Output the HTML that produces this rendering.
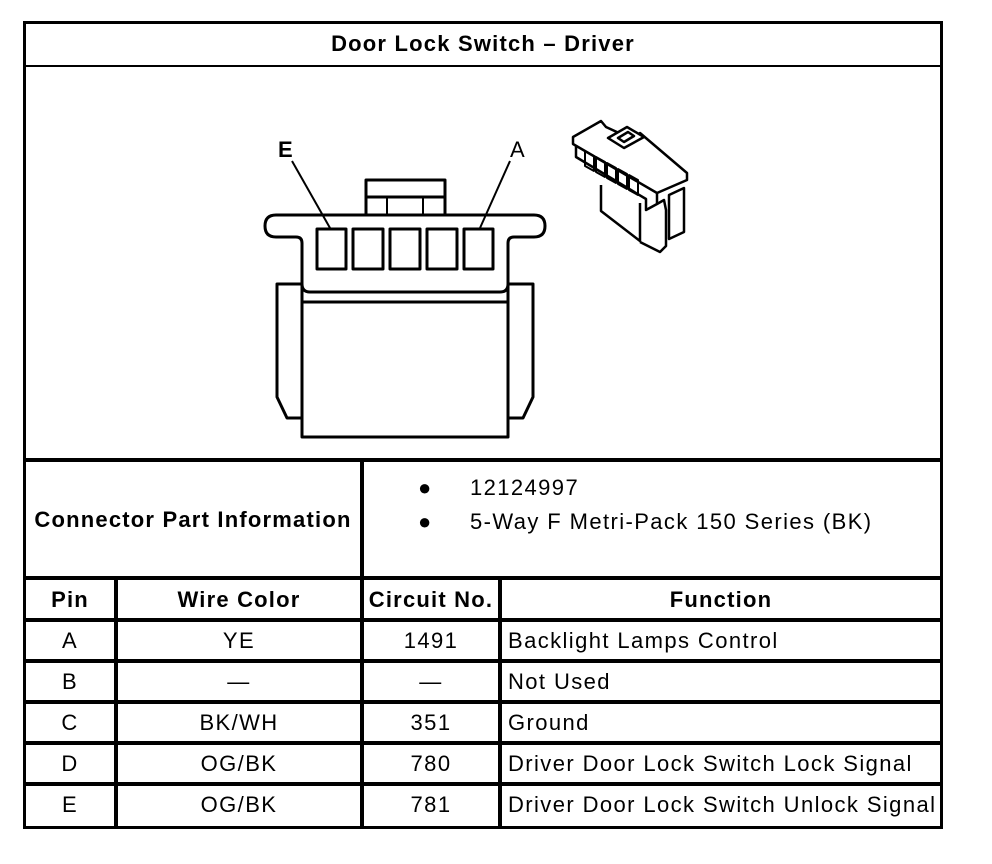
<!DOCTYPE html>
<html><head><style>
body{margin:0;background:#fff;width:992px;height:864px;position:relative;font-family:"Liberation Sans",Arial,sans-serif;}
.l{position:absolute;background:#000;}
.t{position:absolute;font-size:22px;letter-spacing:1.4px;color:#000;white-space:nowrap;}
.b{font-weight:bold;letter-spacing:1.2px;}
.c{text-align:center;}
</style></head><body>
<div class="l" style="left:23px;top:21px;width:920px;height:3px"></div>
<div class="l" style="left:23px;top:826px;width:920px;height:3px"></div>
<div class="l" style="left:23px;top:21px;width:3px;height:808px"></div>
<div class="l" style="left:940px;top:21px;width:3px;height:808px"></div>
<div class="l" style="left:23px;top:65px;width:920px;height:2px"></div>
<div class="l" style="left:23px;top:458px;width:920px;height:4px"></div>
<div class="l" style="left:23px;top:576px;width:920px;height:4px"></div>
<div class="l" style="left:23px;top:618px;width:920px;height:4px"></div>
<div class="l" style="left:23px;top:659px;width:920px;height:4px"></div>
<div class="l" style="left:23px;top:700px;width:920px;height:4px"></div>
<div class="l" style="left:23px;top:741px;width:920px;height:4px"></div>
<div class="l" style="left:23px;top:782px;width:920px;height:4px"></div>
<div class="l" style="left:360px;top:458px;width:4px;height:370px"></div>
<div class="l" style="left:114px;top:576px;width:4px;height:252px"></div>
<div class="l" style="left:498px;top:576px;width:4px;height:252px"></div>

<div class="t b c" style="left:26px;width:914px;top:31px">Door Lock Switch – Driver</div>
<div class="t b c" style="left:26px;width:334px;top:507px">Connector Part Information</div>
<div class="t" style="left:418px;top:475px">●</div>
<div class="t" style="left:470px;top:475px">12124997</div>
<div class="t" style="left:418px;top:509px">●</div>
<div class="t" style="left:470px;top:509px">5-Way F Metri-Pack 150 Series (BK)</div>

<div class="t b c" style="left:26px;width:88px;top:587px">Pin</div>
<div class="t b c" style="left:118px;width:242px;top:587px">Wire Color</div>
<div class="t b c" style="left:364px;width:134px;top:587px">Circuit No.</div>
<div class="t b c" style="left:502px;width:438px;top:587px">Function</div>

<div class="t c" style="left:26px;width:88px;top:628px">A</div>
<div class="t c" style="left:118px;width:242px;top:628px">YE</div>
<div class="t c" style="left:364px;width:134px;top:628px">1491</div>
<div class="t" style="left:508px;top:628px">Backlight Lamps Control</div>

<div class="t c" style="left:26px;width:88px;top:669px">B</div>
<div class="t c" style="left:118px;width:242px;top:669px">—</div>
<div class="t c" style="left:364px;width:134px;top:669px">—</div>
<div class="t" style="left:508px;top:669px">Not Used</div>

<div class="t c" style="left:26px;width:88px;top:710px">C</div>
<div class="t c" style="left:118px;width:242px;top:710px">BK/WH</div>
<div class="t c" style="left:364px;width:134px;top:710px">351</div>
<div class="t" style="left:508px;top:710px">Ground</div>

<div class="t c" style="left:26px;width:88px;top:751px">D</div>
<div class="t c" style="left:118px;width:242px;top:751px">OG/BK</div>
<div class="t c" style="left:364px;width:134px;top:751px">780</div>
<div class="t" style="left:508px;top:751px">Driver Door Lock Switch Lock Signal</div>

<div class="t c" style="left:26px;width:88px;top:792px">E</div>
<div class="t c" style="left:118px;width:242px;top:792px">OG/BK</div>
<div class="t c" style="left:364px;width:134px;top:792px">781</div>
<div class="t" style="left:508px;top:792px">Driver Door Lock Switch Unlock Signal</div>

<svg style="position:absolute;left:0;top:0" width="992" height="864">
<g fill="none" stroke="#000" stroke-width="3" stroke-linejoin="round">
<rect x="366" y="180" width="79" height="37"/>
<line x1="366" y1="197" x2="445" y2="197"/>
<line x1="387" y1="197" x2="387" y2="216" stroke-width="2"/>
<line x1="423" y1="197" x2="423" y2="216" stroke-width="2"/>
<path d="M302,437 L302,243 Q302,237 296,237 L276,237 Q265,237 265,226 Q265,215 276,215 L534,215 Q545,215 545,226 Q545,237 534,237 L514,237 Q508,237 508,243 L508,437 Z" fill="#fff"/>
<path d="M302,284 Q302,292 310,292 L500,292 Q508,292 508,284"/>
<line x1="302" y1="302" x2="508" y2="302"/>
<rect x="317" y="229" width="29" height="40"/>
<rect x="353" y="229" width="30" height="40"/>
<rect x="390" y="229" width="30" height="40"/>
<rect x="427" y="229" width="30" height="40"/>
<rect x="464" y="229" width="29" height="40"/>
<path d="M302,284 L277,284 L277,397 L287,418 L302,418"/>
<path d="M508,284 L533,284 L533,397 L523,418 L508,418"/>
<line x1="292" y1="161" x2="330" y2="228" stroke-width="2"/>
<line x1="510" y1="161" x2="480" y2="228" stroke-width="2"/>
<g stroke-width="2.5">
<path d="M601,185 L601,211 L640,241 L640,203"/>
<path d="M576,144 L576,157 L646,199 L646,210 L657,204 L657,193"/>
<path d="M657,204 L664,200 L666,210 L666,246 L660,252 L640,242"/>
<path d="M573,137 L601,121 L606,127 L632,139 L640,133 L687,173 L687,180 L657,193 L573,144 Z" fill="#fff"/>
<path d="M669,195 L684,188 L684,232 L669,239 Z" fill="#fff"/>
<path d="M608,138 L627,127 L644,137 L624,148 Z" fill="#fff"/>
<path d="M618,138 L628,132 L634,136 L624,142 Z"/>
<g stroke-width="2">
<path d="M585,151 L594,156 L594,171 L585,166 Z"/>
<path d="M596,157 L605,162 L605,177 L596,172 Z"/>
<path d="M607,163 L616,168 L616,183 L607,178 Z"/>
<path d="M618,169 L627,174 L627,189 L618,184 Z"/>
<path d="M629,175 L638,180 L638,195 L629,190 Z"/>
</g>
</g>
</g>
<text x="278" y="157" font-family="Liberation Sans" font-weight="bold" font-size="22">E</text>
<text x="510" y="157" font-family="Liberation Sans" font-size="22">A</text>
</svg>
</body></html>
